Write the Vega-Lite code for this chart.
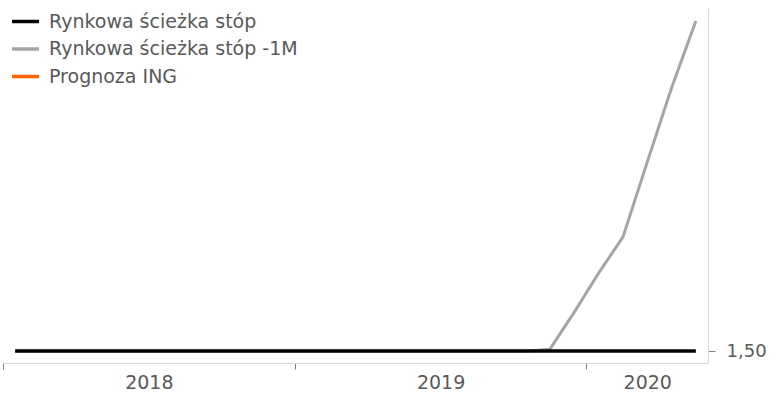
{
  "$schema": "https://vega.github.io/schema/vega-lite/v6.json",
  "width": 705,
  "height": 355,
  "autosize": {"type": "none"},
  "padding": {"left": 3, "top": 8, "right": 69, "bottom": 31},
  "background": "white",
  "config": {
    "view": {"stroke": null},
    "font": "DejaVu Sans"
  },
  "data": {
    "values": [
      {"series": "Rynkowa ścieżka stóp", "i": 0, "month": "2018-01", "rate": 1.5},
      {"series": "Rynkowa ścieżka stóp", "i": 1, "month": "2018-02", "rate": 1.5},
      {"series": "Rynkowa ścieżka stóp", "i": 2, "month": "2018-03", "rate": 1.5},
      {"series": "Rynkowa ścieżka stóp", "i": 3, "month": "2018-04", "rate": 1.5},
      {"series": "Rynkowa ścieżka stóp", "i": 4, "month": "2018-05", "rate": 1.5},
      {"series": "Rynkowa ścieżka stóp", "i": 5, "month": "2018-06", "rate": 1.5},
      {"series": "Rynkowa ścieżka stóp", "i": 6, "month": "2018-07", "rate": 1.5},
      {"series": "Rynkowa ścieżka stóp", "i": 7, "month": "2018-08", "rate": 1.5},
      {"series": "Rynkowa ścieżka stóp", "i": 8, "month": "2018-09", "rate": 1.5},
      {"series": "Rynkowa ścieżka stóp", "i": 9, "month": "2018-10", "rate": 1.5},
      {"series": "Rynkowa ścieżka stóp", "i": 10, "month": "2018-11", "rate": 1.5},
      {"series": "Rynkowa ścieżka stóp", "i": 11, "month": "2018-12", "rate": 1.5},
      {"series": "Rynkowa ścieżka stóp", "i": 12, "month": "2019-01", "rate": 1.5},
      {"series": "Rynkowa ścieżka stóp", "i": 13, "month": "2019-02", "rate": 1.5},
      {"series": "Rynkowa ścieżka stóp", "i": 14, "month": "2019-03", "rate": 1.5},
      {"series": "Rynkowa ścieżka stóp", "i": 15, "month": "2019-04", "rate": 1.5},
      {"series": "Rynkowa ścieżka stóp", "i": 16, "month": "2019-05", "rate": 1.5},
      {"series": "Rynkowa ścieżka stóp", "i": 17, "month": "2019-06", "rate": 1.5},
      {"series": "Rynkowa ścieżka stóp", "i": 18, "month": "2019-07", "rate": 1.5},
      {"series": "Rynkowa ścieżka stóp", "i": 19, "month": "2019-08", "rate": 1.5},
      {"series": "Rynkowa ścieżka stóp", "i": 20, "month": "2019-09", "rate": 1.5},
      {"series": "Rynkowa ścieżka stóp", "i": 21, "month": "2019-10", "rate": 1.5},
      {"series": "Rynkowa ścieżka stóp", "i": 22, "month": "2019-11", "rate": 1.5},
      {"series": "Rynkowa ścieżka stóp", "i": 23, "month": "2019-12", "rate": 1.5},
      {"series": "Rynkowa ścieżka stóp", "i": 24, "month": "2020-01", "rate": 1.5},
      {"series": "Rynkowa ścieżka stóp", "i": 25, "month": "2020-02", "rate": 1.5},
      {"series": "Rynkowa ścieżka stóp", "i": 26, "month": "2020-03", "rate": 1.5},
      {"series": "Rynkowa ścieżka stóp", "i": 27, "month": "2020-04", "rate": 1.5},
      {"series": "Rynkowa ścieżka stóp", "i": 28, "month": "2020-05", "rate": 1.5},
      {"series": "Rynkowa ścieżka stóp -1M", "i": 0, "month": "2018-01", "rate": 1.5},
      {"series": "Rynkowa ścieżka stóp -1M", "i": 1, "month": "2018-02", "rate": 1.5},
      {"series": "Rynkowa ścieżka stóp -1M", "i": 2, "month": "2018-03", "rate": 1.5},
      {"series": "Rynkowa ścieżka stóp -1M", "i": 3, "month": "2018-04", "rate": 1.5},
      {"series": "Rynkowa ścieżka stóp -1M", "i": 4, "month": "2018-05", "rate": 1.5},
      {"series": "Rynkowa ścieżka stóp -1M", "i": 5, "month": "2018-06", "rate": 1.5},
      {"series": "Rynkowa ścieżka stóp -1M", "i": 6, "month": "2018-07", "rate": 1.5},
      {"series": "Rynkowa ścieżka stóp -1M", "i": 7, "month": "2018-08", "rate": 1.5},
      {"series": "Rynkowa ścieżka stóp -1M", "i": 8, "month": "2018-09", "rate": 1.5},
      {"series": "Rynkowa ścieżka stóp -1M", "i": 9, "month": "2018-10", "rate": 1.5},
      {"series": "Rynkowa ścieżka stóp -1M", "i": 10, "month": "2018-11", "rate": 1.5},
      {"series": "Rynkowa ścieżka stóp -1M", "i": 11, "month": "2018-12", "rate": 1.5},
      {"series": "Rynkowa ścieżka stóp -1M", "i": 12, "month": "2019-01", "rate": 1.5},
      {"series": "Rynkowa ścieżka stóp -1M", "i": 13, "month": "2019-02", "rate": 1.5},
      {"series": "Rynkowa ścieżka stóp -1M", "i": 14, "month": "2019-03", "rate": 1.5},
      {"series": "Rynkowa ścieżka stóp -1M", "i": 15, "month": "2019-04", "rate": 1.5},
      {"series": "Rynkowa ścieżka stóp -1M", "i": 16, "month": "2019-05", "rate": 1.5},
      {"series": "Rynkowa ścieżka stóp -1M", "i": 17, "month": "2019-06", "rate": 1.5},
      {"series": "Rynkowa ścieżka stóp -1M", "i": 18, "month": "2019-07", "rate": 1.5},
      {"series": "Rynkowa ścieżka stóp -1M", "i": 19, "month": "2019-08", "rate": 1.5},
      {"series": "Rynkowa ścieżka stóp -1M", "i": 20, "month": "2019-09", "rate": 1.5},
      {"series": "Rynkowa ścieżka stóp -1M", "i": 21, "month": "2019-10", "rate": 1.5},
      {"series": "Rynkowa ścieżka stóp -1M", "i": 22, "month": "2019-11", "rate": 1.5015},
      {"series": "Rynkowa ścieżka stóp -1M", "i": 23, "month": "2019-12", "rate": 1.5296},
      {"series": "Rynkowa ścieżka stóp -1M", "i": 24, "month": "2020-01", "rate": 1.5591},
      {"series": "Rynkowa ścieżka stóp -1M", "i": 25, "month": "2020-02", "rate": 1.5864},
      {"series": "Rynkowa ścieżka stóp -1M", "i": 26, "month": "2020-03", "rate": 1.6432},
      {"series": "Rynkowa ścieżka stóp -1M", "i": 27, "month": "2020-04", "rate": 1.6993},
      {"series": "Rynkowa ścieżka stóp -1M", "i": 28, "month": "2020-05", "rate": 1.7501}
    ]
  },
  "encoding": {
    "x": {
      "field": "i",
      "type": "quantitative",
      "scale": {"domain": [-0.5, 28.5], "nice": false, "zero": false},
      "axis": {
        "title": null,
        "grid": false,
        "values": [-0.5, 5.5, 11.5, 17.5, 23.5, 26],
        "labelExpr": "datum.value == 5.5 ? '2018' : datum.value == 17.5 ? '2019' : datum.value == 26 ? '2020' : ''",
        "tickOpacity": {"condition": {"test": "datum.value == 5.5 || datum.value == 17.5 || datum.value == 26", "value": 0}, "value": 1},
        "tickSize": 6,
        "tickColor": "#7f7f7f",
        "tickWidth": 1,
        "domainColor": "#d9d9d9",
        "domainWidth": 1,
        "labelFontSize": 19,
        "labelColor": "#595959",
        "labelPadding": 4,
        "labelFlush": false,
        "labelOverlap": false
      }
    },
    "y": {
      "field": "rate",
      "type": "quantitative",
      "scale": {"domain": [1.491, 1.76], "nice": false, "zero": false},
      "axis": {
        "orient": "right",
        "title": null,
        "grid": false,
        "values": [1.5],
        "labelExpr": "replace(format(datum.value, '.2f'), '.', ',')",
        "tickSize": 7,
        "tickColor": "#7f7f7f",
        "domainColor": "#d9d9d9",
        "labelFontSize": 18,
        "labelColor": "#595959",
        "labelPadding": 11
      }
    },
    "color": {
      "field": "series",
      "type": "nominal",
      "scale": {
        "domain": ["Rynkowa ścieżka stóp", "Rynkowa ścieżka stóp -1M", "Prognoza ING"],
        "range": ["#000000", "#a5a5a5", "#ff6200"]
      },
      "legend": {
        "title": null,
        "orient": "none",
        "legendX": 7,
        "legendY": -2,
        "symbolType": "stroke",
        "symbolSize": 729,
        "symbolStrokeWidth": 3.5,
        "labelFontSize": 19,
        "labelColor": "#595959",
        "labelOffset": 8,
        "labelLimit": 0,
        "rowPadding": 1.5,
        "padding": 0
      }
    }
  },
  "layer": [
    {
      "transform": [{"filter": "datum.series == 'Rynkowa ścieżka stóp -1M'"}],
      "mark": {"type": "line", "strokeWidth": 3}
    },
    {
      "transform": [{"filter": "datum.series == 'Rynkowa ścieżka stóp'"}],
      "mark": {"type": "line", "strokeWidth": 3.5}
    }
  ]
}
